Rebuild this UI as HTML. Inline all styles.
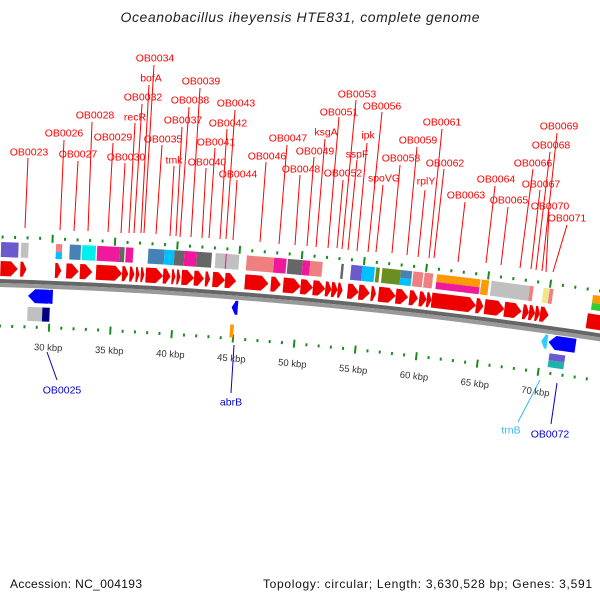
<!DOCTYPE html>
<html><head><meta charset="utf-8">
<style>
html,body{margin:0;padding:0;background:#fff;}
svg{display:block;font-family:"Liberation Sans","DejaVu Sans",sans-serif;}
</style></head>
<body>
<svg id="map" width="600" height="600" viewBox="0 0 600 600" xmlns="http://www.w3.org/2000/svg">
<rect x="0" y="0" width="600" height="600" fill="#fff"/>
<text x="300" y="22" text-anchor="middle" font-size="14" font-style="italic" fill="#222" textLength="359">Oceanobacillus iheyensis HTE831, complete genome</text>
<g id="callouts"></g>
<g id="marks"></g>
<text x="10" y="588" font-size="12" fill="#111" textLength="132">Accession: NC_004193</text>
<text x="263" y="588" font-size="12" fill="#111" textLength="329">Topology: circular; Length: 3,630,528 bp; Genes: 3,591</text>
</svg>
<script>
// ---- data (kbp) ----
var fwdStart = [25.9,27.5,30.3,31.2,32.3,33.6,35.7,36.3,36.8,37.2,37.6,39.0,39.7,40.1,40.5,41.5,42.4,43.0,44.0,45.6,47.7,48.7,50.1,51.1,52.1,52.6,53.1,53.9,54.8,55.8,56.4,57.8,58.9,59.7,60.3,60.7,64.3,65.0,66.6,68.1,68.6,69.1,69.5,73.3];
var fwdEnd   = [27.3,28.0,30.8,32.2,33.3,35.7,36.2,36.7,37.1,37.5,39.0,39.6,40.0,40.4,41.5,42.3,42.8,44.0,44.9,47.5,48.5,50.1,51.1,52.1,52.6,53.1,53.5,54.8,55.7,56.2,57.8,58.8,59.6,60.3,60.7,64.3,64.9,66.6,68.0,68.6,69.1,69.5,70.2,75.1];
var revStart = [28.2,29.6,44.7,69.9,70.5];
var revEnd   = [29.9,30.2,45.2,70.4,72.7];
var revColor = ['#0000ff','#0000ff','#0000ff','#33ccff','#0000ff'];
var cogStart = [25.9,27.5,30.3,31.4,32.4,33.6,35.4,35.9,37.7,39.0,39.8,40.6,41.6,43.1,43.9,44.0,45.6,47.8,48.9,50.1,50.7,53.2,54.0,54.9,56.0,56.5,58.0,59.0,59.9,60.9,64.5,65.3,68.4,69.5,70.0,73.5];
var cogEnd   = [27.3,28.1,30.8,32.3,33.5,35.4,35.8,36.5,39.0,39.8,40.6,41.6,42.8,43.9,44.0,45.0,47.8,48.8,50.1,50.7,51.7,53.4,54.9,55.9,56.3,58.0,58.9,59.8,60.6,64.4,65.1,68.4,68.7,70.0,70.3,75.0];
var cogColor = ['#6a5acd','#c0c0c0','#f08080','#4682b4','#00eeee','#f0199b','#666666','#f0199b','#4682b4','#00bfff','#666666','#f0199b','#666666','#c0c0c0','#f0199b','#c0c0c0','#f08080','#f0199b','#666666','#f0199b','#f08080','#666666','#6a5acd','#00bfff','#6b8e23','#6b8e23','#4682b4','#f08080','#f08080','#ff9900','#ff9900','#c0c0c0','#f08080','#f0e68c','#f08080','#ff9900'];
var cogColor2= ['','','#00bfff','','','','','','','','','','','','','','','','','','','','','','','','#00bfff','','','#f0199b','','','','','','#32cd32'];
var lowStart = [28.2,29.4,44.7,70.7];
var lowEnd   = [29.4,30.0,45.0,72.0];
var lowColor = ['#c0c0c0','#000080','#ff9900','#6a5acd'];
var lowColor2= ['','','','#20b2aa'];
var tickKbp = [30,35,40,45,50,55,60,65,70];
var tickLabels = ['30 kbp','35 kbp','40 kbp','45 kbp','50 kbp','55 kbp','60 kbp','65 kbp','70 kbp'];
var labelText = ['OB0023','OB0026','OB0027','OB0028','OB0029','OB0030','recR','OB0032','bofA','OB0034','OB0035','tmk','OB0037','OB0038','OB0039','OB0040','OB0041','OB0042','OB0043','OB0044','OB0046','OB0047','OB0048','OB0049','ksgA','OB0051','OB0052','OB0053','sspF','ipk','OB0056','spoVG','OB0058','OB0059','rplY','OB0061','OB0062','OB0063','OB0064','OB0065','OB0066','OB0067','OB0068','OB0069','OB0070','OB0071'];
var labelX = [29,64,78,95,113,126,135,143,151,155,163,174,183,190,201,207,216,228,236,238,267,288,301,315,326,339,343,357,357,368,382,384,401,418,426,442,445,466,496,509,533,541,551,559,550,567];
var labelY = [152,133,154,115,137,157,117,97,78,58,139,160,120,100,81,162,142,123,103,174,156,138,169,151,132,112,173,94,154,135,106,178,158,140,181,122,163,195,179,200,163,184,145,126,206,218];
var lineTop = [[28,158],[64,140],[78,161],[92,122],[113,143],[125,163],[135,123],[142,104],[149,85],[154,65],[162,145],[174,166],[182,127],[189,107],[200,88],[206,168],[215,148],[227,129],[235,110],[237,180],[266,162],[287,145],[300,175],[314,157],[325,139],[339,117],[343,180],[356,100],[357,160],[367,143],[382,112],[383,185],[400,165],[417,147],[425,190],[442,129],[444,169],[465,202],[495,186],[508,207],[533,169],[540,190],[550,152],[557,133],[549,212],[567,225]];
var lineBot = [[25,228],[60,230],[74,231],[88,231],[108,232],[121,233],[129,233],[134,233],[141,233],[144,233],[156,234],[170,236],[176,236],[180,237],[191,237],[202,238],[209,238],[220,239],[226,239],[233,240],[260,242],[279,244],[295,245],[307,246],[316,247],[328,248],[337,248],[342,249],[348,250],[357,251],[368,252],[376,252],[392,253],[407,255],[418,257],[429,258],[434,258],[458,262],[486,263],[501,265],[520,268],[531,269],[536,270],[542,271],[546,272],[553,272]];

// ---- geometry ----
var NS='http://www.w3.org/2000/svg';
var R=5000, CX=-150, CY=5276.75, TH0=0.030, DTH=0.00248, K0=25.89;
function theta(k){return TH0+(k-K0)*DTH;}
function pt(th,r){return [CX+r*Math.sin(th), CY-r*Math.cos(th)];}
function P(list){return list.map(function(p){return p[0].toFixed(2)+','+p[1].toFixed(2);}).join(' ');}
var marks=document.getElementById('marks');
var callouts=document.getElementById('callouts');
function poly(parent,pts,fill){
  var e=document.createElementNS(NS,'polygon');
  e.setAttribute('points',P(pts));
  e.setAttribute('fill',fill);
  parent.appendChild(e);return e;
}
function box(k1,k2,r1,r2,fill){
  var a=theta(k1),b=theta(k2);
  return poly(marks,[pt(a,r2),pt(b,r2),pt(b,r1),pt(a,r1)],fill);
}
function arrow(k1,k2,r1,r2,fill,dir){
  var a=theta(k1),b=theta(k2),w=b-a,h=Math.min(7/R,w*0.6),rm=(r1+r2)/2;
  var pts = dir>0 ? [pt(a,r2),pt(b-h,r2),pt(b,rm),pt(b-h,r1),pt(a,r1)]
                  : [pt(a,rm),pt(a+h,r2),pt(b,r2),pt(b,r1),pt(a+h,r1)];
  return poly(marks,pts,fill);
}
// backbone
(function(){
  var a=-0.005,b=0.16,s=[],t=[],i;
  for(i=0;i<=40;i++){s.push(pt(a+(b-a)*i/40,R));}
  for(i=40;i>=0;i--){s.push(pt(a+(b-a)*i/40,R-4));}
  var e1=poly(marks,s,'#666');
  
  
  for(i=0;i<=40;i++){t.push(pt(a+(b-a)*i/40,R-4));}
  for(i=40;i>=0;i--){t.push(pt(a+(b-a)*i/40,R-8));}
  var e2=poly(marks,t,'#999');
  
  
})();
// ticks
for(var k=26;k<=74;k++){
  var major=(k%5===0);
  var th=theta(k);
  var o1=box(k-0.08,k+0.08,R+42-(major?4:1.5),R+42+(major?4:1.5),'#1a8a1a');
  
  
  var o2=box(k-0.08,k+0.08,R-47-(major?4:1.5),R-47+(major?4:1.5),'#1a8a1a');
  
  
}
for(var i=0;i<tickKbp.length;i++){
  var th=theta(tickKbp[i]);var p=pt(th,R-67);
  var t=document.createElementNS(NS,'text');
  t.setAttribute('x',p[0].toFixed(1));t.setAttribute('y',(p[1]+3).toFixed(1));
  t.setAttribute('text-anchor','middle');t.setAttribute('font-size','9.5');t.setAttribute('fill','#333');
  t.setAttribute('transform','rotate('+(th*180/Math.PI).toFixed(2)+' '+p[0].toFixed(1)+' '+p[1].toFixed(1)+')');
  t.textContent=tickLabels[i];
  
  
  marks.appendChild(t);
}
// forward genes
for(var i=0;i<fwdStart.length;i++){
  var g=arrow(fwdStart[i],fwdEnd[i],R+3,R+18,'#ee0000',1);
  
  
}
// reverse genes
for(var i=0;i<revStart.length;i++){
  var g=arrow(revStart[i],revEnd[i],R-23,R-9,revColor[i],-1);
  
  
}
// COG boxes
for(var i=0;i<cogStart.length;i++){
  if(cogColor2[i]){
    var c1=box(cogStart[i],cogEnd[i],R+29,R+37,cogColor[i]);
    
    
    var c2=box(cogStart[i],cogEnd[i],R+22,R+29,cogColor2[i]);
    
    
  } else {
    var c=box(cogStart[i],cogEnd[i],R+22,R+37,cogColor[i]);
    
    
  }
}
for(var i=0;i<lowStart.length;i++){
  var r1=(i===2)?R-46:R-41, r2=(i===2)?R-33:R-27;
  if(lowColor2[i]){
    var c1=box(lowStart[i],lowEnd[i],(r1+r2)/2,r2,lowColor[i]);
    
    
    var c2=box(lowStart[i],lowEnd[i],r1,(r1+r2)/2,lowColor2[i]);
    
    
  } else {
    var c=box(lowStart[i],lowEnd[i],r1,r2,lowColor[i]);
    
    
  }
}
// gene labels
function addLine(x1,y1,x2,y2,col){
  var l=document.createElementNS(NS,'line');
  l.setAttribute('x1',x1);l.setAttribute('y1',y1);l.setAttribute('x2',x2);l.setAttribute('y2',y2);
  l.setAttribute('stroke',col);l.setAttribute('stroke-width','1');
  callouts.appendChild(l);return l;
}
function addText(x,y,s,col){
  var t=document.createElementNS(NS,'text');
  t.setAttribute('x',x);t.setAttribute('y',y);t.setAttribute('text-anchor','middle');
  t.setAttribute('font-size','10.5');t.setAttribute('fill',col);t.textContent=s;
  callouts.appendChild(t);return t;
}
for(var i=0;i<labelText.length;i++){
  var l=addLine(lineTop[i][0],lineTop[i][1],lineBot[i][0],lineBot[i][1],'#ff0000');
  
  
  var t=addText(labelX[i],labelY[i]+3.5,labelText[i],'#ff0000');
  
  
}
var bl=[['OB0025',62,390,47,352,57,380,'#0000cc'],['abrB',231,402,234,345,231,393,'#0000cc'],['trnB',511,430,540,380,518,422,'#33bbee'],['OB0072',550,434,557,383,551,424,'#0000cc']];
for(var i=0;i<bl.length;i++){
  var l=addLine(bl[i][3],bl[i][4],bl[i][5],bl[i][6],bl[i][7]);
  
  
  var t=addText(bl[i][1],bl[i][2]+3.5,bl[i][0],bl[i][7]);
  
  
}
</script>
</body></html>
